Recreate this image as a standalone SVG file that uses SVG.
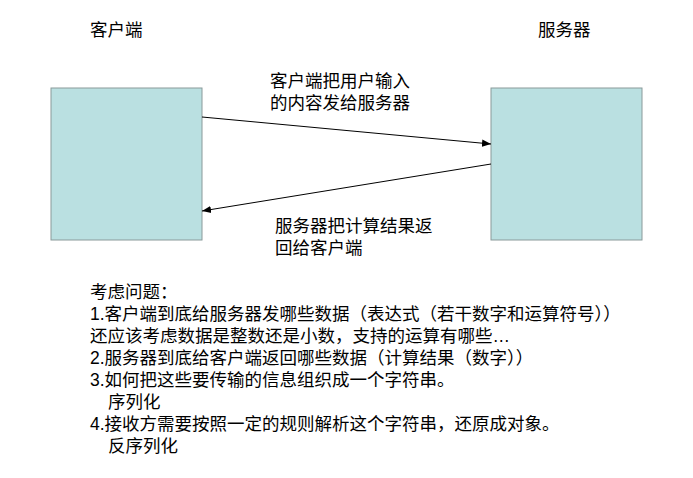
<svg xmlns="http://www.w3.org/2000/svg" width="693" height="478" viewBox="0 0 693 478">
<defs>
<style>
text{font-family:"Liberation Sans","Noto Sans CJK SC",sans-serif;font-size:17.5px;fill:#000}
.box{fill:#BAE0E1;stroke:#8a9a9a;stroke-width:1}
.c{stroke:#000;stroke-width:1;fill:none;marker-end:url(#a)}
</style>
<marker id="a" viewBox="0 0 10 10" refX="10" refY="5" markerWidth="9" markerHeight="9" orient="auto" markerUnits="userSpaceOnUse"><path d="M0,1 L10,5 L0,9z" fill="#000"/></marker>
</defs>
<rect width="693" height="478" fill="#fff"/>
<g id="client"><rect class="box" x="51" y="88" width="151" height="152"/><text x="90" y="36">客户端</text></g>
<g id="server"><rect class="box" x="491" y="88" width="151" height="152"/><text x="538" y="36">服务器</text></g>
<g id="connectors">
<line class="c" x1="202" y1="117" x2="491" y2="144"/>
<line class="c" x1="491" y1="164" x2="202" y2="211"/>
<text x="270" y="87">客户端把用户输入</text>
<text x="270" y="109">的内容发给服务器</text>
<text x="275" y="232">服务器把计算结果返</text>
<text x="275" y="254">回给客户端</text>
</g>
<g id="notes">
<text x="90" y="298">考虑问题：</text>
<text x="90" y="320">1.客户端到底给服务器发哪些数据（表达式（若干数字和运算符号））</text>
<text x="90" y="342">还应该考虑数据是整数还是小数，支持的运算有哪些…</text>
<text x="90" y="364">2.服务器到底给客户端返回哪些数据（计算结果（数字））</text>
<text x="90" y="386">3.如何把这些要传输的信息组织成一个字符串。</text>
<text x="108" y="408">序列化</text>
<text x="90" y="430">4.接收方需要按照一定的规则解析这个字符串，还原成对象。</text>
<text x="108" y="452">反序列化</text>
</g>
</svg>
